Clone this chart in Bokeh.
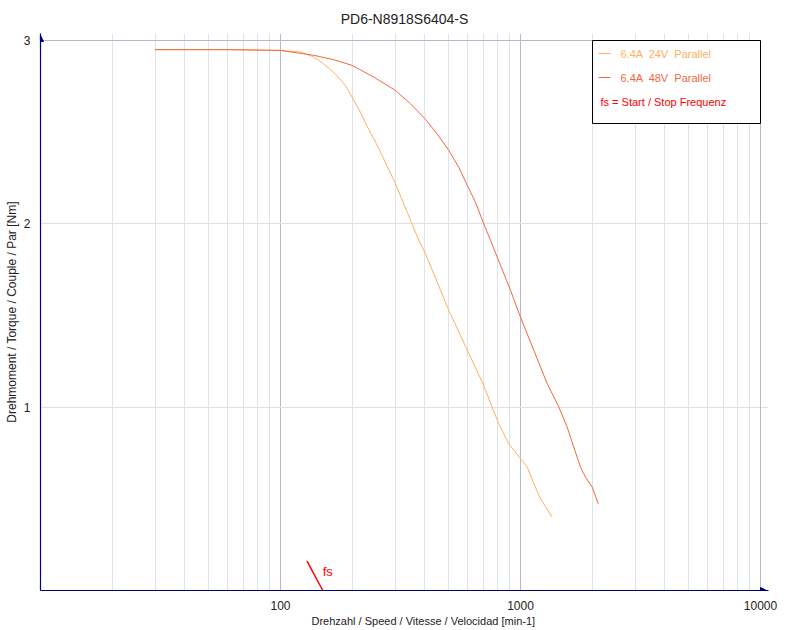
from bokeh.plotting import figure
from bokeh.models import FixedTicker, Label, BoxAnnotation, Arrow, NormalHead, Title
from bokeh.embed import file_html
from bokeh.resources import INLINE

# ---------------- data ----------------
title_text = "PD6-N8918S6404-S"
x_label = "Drehzahl / Speed / Vitesse / Velocidad [min-1]"
y_label = "Drehmoment / Torque / Couple / Par [Nm]"
series_names = ["6.4A \u00a024V \u00a0Parallel", "6.4A \u00a048V \u00a0Parallel"]
fs_legend = "fs = Start / Stop Frequenz"
fs_mark = "fs"

speed_24 = [30, 60, 100, 121, 138, 151, 162, 172, 187, 199, 215, 230, 257, 301, 321,
            337, 377, 402, 503, 610, 703, 762, 812, 894, 1000, 1067, 1137, 1212, 1355]
torque_24 = [2.95, 2.95, 2.946, 2.937, 2.91, 2.873, 2.84, 2.808, 2.752, 2.69, 2.61,
             2.53, 2.41, 2.22, 2.13, 2.064, 1.91, 1.837, 1.527, 1.291, 1.118, 1.0,
             0.909, 0.80, 0.72, 0.673, 0.582, 0.50, 0.40]

speed_48 = [30, 60, 100, 117, 138, 167, 199, 245, 301, 348, 402, 449, 503, 553, 600,
            649, 703, 750, 800, 909, 1000, 1137, 1292, 1445, 1565, 1667, 1778, 1866,
            1990, 2108]
torque_48 = [2.95, 2.95, 2.946, 2.933, 2.919, 2.895, 2.864, 2.80, 2.728, 2.655, 2.57,
             2.491, 2.40, 2.309, 2.21, 2.118, 2.0, 1.91, 1.818, 1.637, 1.49, 1.309,
             1.128, 1.0, 0.891, 0.782, 0.673, 0.618, 0.564, 0.473]

fs_speed = [129, 150]
fs_torque = [0.16, 0.0]
fs_label_at = (150, 0.105)

x_ticks = [100, 1000, 10000]
x_tick_labels = ["100", "1000", "10000"]
x_decades = [10, 100, 1000, 10000]
x_minor = [m * d for d in [10, 100, 1000] for m in range(2, 10)]
y_ticks = [1, 2, 3]
y_tick_labels = ["1", "2", "3"]

# ---------------- styling ----------------
C24 = "#FFB060"
C48 = "#F2683E"
NAVY = "#000080"
FONT = "Liberation Sans"
MAJOR_GRID = "#b8b8cc"
MINOR_GRID = "#dde2ec"

W, H = 800, 630
PX_DEC = 240.0      # pixels per decade on x
PX_UNIT = 550 / 3   # pixels per Nm on y
EXT_X, EXT_Y = 8, 7  # extra frame room for arrow heads (px)

x_max = x_decades[-1] * 10 ** (EXT_X / PX_DEC)
y_max = y_ticks[-1] + EXT_Y / PX_UNIT

p = figure(width=W, height=H, x_axis_type="log", x_range=(x_decades[0], x_max),
           y_range=(0, y_max), output_backend="svg", toolbar_location=None,
           min_border_left=40, min_border_right=32, min_border_top=33, min_border_bottom=40,
           background_fill_color="white", border_fill_color="white",
           outline_line_color=None)

p.title.text = title_text
p.title.align = "center"
p.title.text_font = FONT
p.title.text_font_size = "14px"
p.title.text_font_style = "normal"
p.title.text_color = "#222222"
p.title.standoff = 13

# x axis caption placed as a bottom title so it can be offset horizontally
p.add_layout(Title(text=x_label, align="left", offset=271, vertical_align="top",
                   standoff=4, text_font=FONT, text_font_size="11px",
                   text_font_style="normal", text_color="#222222"), "below")

# grids
p.xgrid.ticker = FixedTicker(ticks=x_decades[1:-1], minor_ticks=x_minor)
p.xgrid.grid_line_color = MAJOR_GRID
p.xgrid.minor_grid_line_color = MINOR_GRID
p.ygrid.ticker = FixedTicker(ticks=y_ticks[:-1])
p.ygrid.grid_line_color = "#e0e0e0"

# frame border (top and right) drawn at the last ticks
p.segment(x0=[x_decades[0], x_decades[-1]], y0=[y_ticks[-1], 0],
          x1=[x_decades[-1], x_decades[-1]], y1=[y_ticks[-1], y_ticks[-1]],
          line_color=MAJOR_GRID, line_width=1)

# axes
p.xaxis.ticker = FixedTicker(ticks=x_ticks)
p.xaxis.major_label_overrides = {t: s for t, s in zip(x_ticks, x_tick_labels)}
p.yaxis.ticker = FixedTicker(ticks=y_ticks)
p.yaxis.major_label_overrides = {t: s for t, s in zip(y_ticks, y_tick_labels)}
for ax in (p.xaxis, p.yaxis):
    ax.axis_line_color = NAVY
    ax.axis_line_width = 1.2
    ax.major_tick_line_color = None
    ax.minor_tick_line_color = None
    ax.major_label_text_font = FONT
    ax.major_label_text_font_size = "12px"
    ax.major_label_text_color = "#222222"
    ax.axis_label_text_font = FONT
    ax.axis_label_text_font_style = "normal"
    ax.axis_label_text_color = "#222222"
p.yaxis.axis_label = y_label
p.yaxis.axis_label_text_font_size = "12px"
p.xaxis.major_label_standoff = 4
p.yaxis.major_label_standoff = 4
p.yaxis.axis_label_standoff = 2

# curves
p.line(speed_24, torque_24, line_color=C24, line_width=1, line_join="round")
p.line(speed_48, torque_48, line_color=C48, line_width=1, line_join="round")
p.line(fs_speed, fs_torque, line_color="#FF0000", line_width=1.5)
p.add_layout(Label(x=fs_label_at[0], y=fs_label_at[1], text=fs_mark, text_color="#FF0000",
                   text_font=FONT, text_font_size="13px", text_baseline="middle",
                   x_offset=0))

# axis arrows
p.add_layout(Arrow(end=NormalHead(size=6, fill_color=NAVY, line_color=NAVY),
                   x_start=x_decades[-1], y_start=0,
                   x_end=x_decades[-1] * 10 ** (6 / PX_DEC), y_end=0,
                   line_color=NAVY, line_width=1.2))
p.add_layout(Arrow(end=NormalHead(size=6, fill_color=NAVY, line_color=NAVY),
                   x_start=x_decades[0], y_start=y_ticks[-1],
                   x_end=x_decades[0], y_end=y_ticks[-1] + 5 / PX_UNIT,
                   line_color=NAVY, line_width=1.2))

# legend, in frame screen units (origin = frame bottom-left, y up)
FL, FB = 40, 590

def fx(px):
    return px - FL

def fy(py):
    return FB - py

p.add_layout(BoxAnnotation(left=fx(592), right=fx(760), top=fy(40), bottom=fy(123),
                           left_units="screen", right_units="screen",
                           top_units="screen", bottom_units="screen",
                           fill_color="white", fill_alpha=1.0,
                           line_color="black", line_width=1, line_alpha=1.0))
for i, (name, col) in enumerate(zip(series_names, [C24, C48])):
    yy = 53 + 24 * i
    p.add_layout(Arrow(end=None, x_start=fx(598), x_end=fx(610), y_start=fy(yy), y_end=fy(yy),
                       start_units="screen", end_units="screen", line_color=col, line_width=1.2))
    p.add_layout(Label(x=fx(620), y=fy(yy), x_units="screen", y_units="screen", text=name,
                       text_font=FONT, text_font_size="11px", text_baseline="middle",
                       text_color=col))
p.add_layout(Label(x=fx(600), y=fy(101), x_units="screen", y_units="screen", text=fs_legend,
                   text_font=FONT, text_font_size="11px", text_baseline="middle",
                   text_color="#FF0000"))

open("out.html", "w").write(file_html(p, INLINE))
